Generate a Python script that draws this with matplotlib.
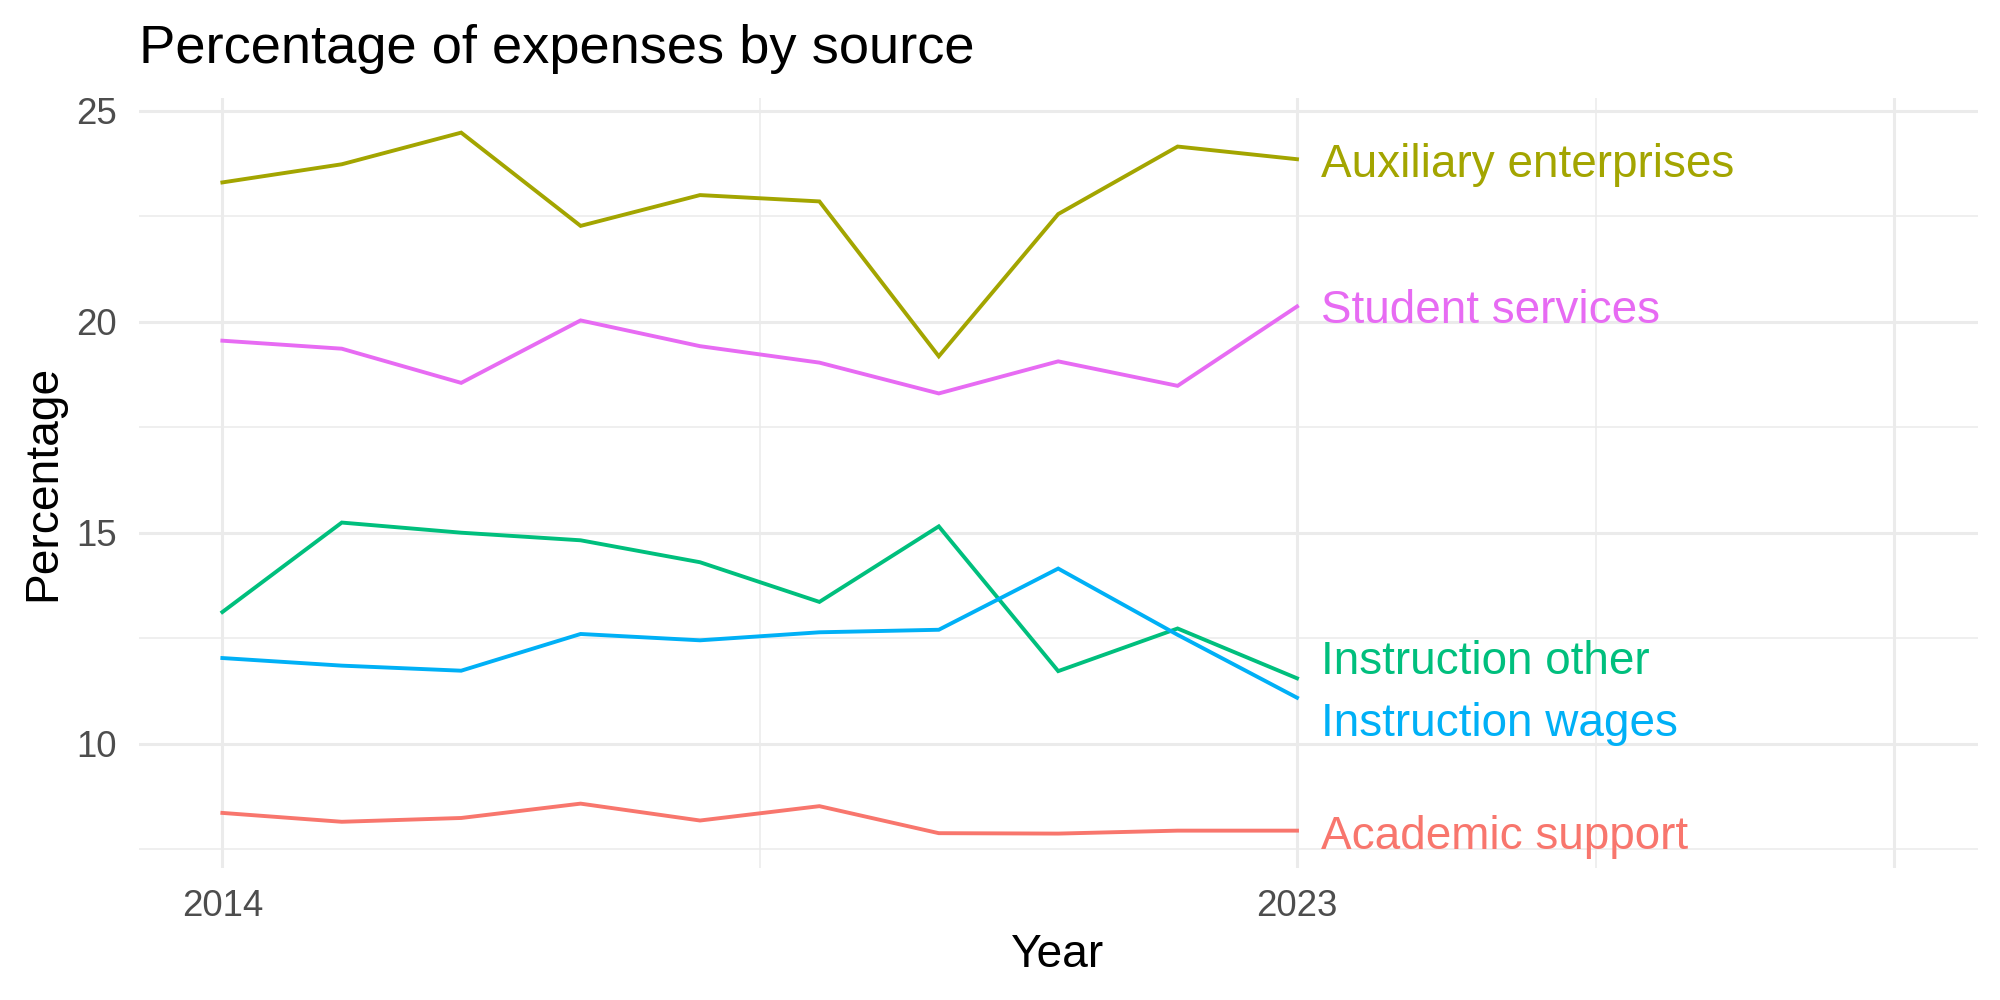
import matplotlib
matplotlib.use("Agg")
import matplotlib.pyplot as plt

years = [2014, 2015, 2016, 2017, 2018, 2019, 2020, 2021, 2022, 2023]
academic_support = [8.36, 8.15, 8.24, 8.58, 8.18, 8.52, 7.88, 7.87, 7.94, 7.94]
auxiliary_enterprises = [23.30, 23.73, 24.48, 22.27, 23.00, 22.85, 19.18, 22.55, 24.15, 23.85]
instruction_other = [13.12, 15.24, 15.00, 14.82, 14.30, 13.36, 15.15, 11.72, 12.73, 11.55]
instruction_wages = [12.03, 11.85, 11.73, 12.60, 12.45, 12.64, 12.70, 14.15, 12.58, 11.09]
student_services = [19.55, 19.36, 18.55, 20.03, 19.42, 19.03, 18.30, 19.06, 18.48, 20.36]

series_names = ["Academic support", "Auxiliary enterprises", "Instruction other",
                "Instruction wages", "Student services"]
series_values = [academic_support, auxiliary_enterprises, instruction_other,
                 instruction_wages, student_services]
colors = ["#F8766D", "#A3A500", "#00BF7D", "#00B0F6", "#E76BF3"]
# repelled label heights (as placed in the reference)
label_y = [7.89, 23.82, 12.05, 10.57, 20.37]

x_labels = {2014: "2014", 2023: "2023"}

plt.rcParams['font.family'] = ['Liberation Sans', 'DejaVu Sans']

fig = plt.figure(figsize=(10, 5), dpi=200)
ax = fig.add_axes([0.0694, 0.1318, 0.9194, 0.7706])

for name, vals, c, ly in zip(series_names, series_values, colors, label_y):
    ax.plot(years, vals, color=c, lw=1.4, solid_joinstyle='miter', zorder=3)
    ax.annotate(name, xy=(years[-1], ly), xytext=(8.6, -6.0), textcoords='offset points',
                ha='left', va='baseline', color=c, fontsize=16.5, zorder=4)

ax.set_xlim(2013.3, 2028.7)
ax.set_ylim(7.05, 25.31)

ax.set_xticks([2014, 2023, 2028])
ax.set_xticklabels([x_labels.get(t, "") for t in [2014, 2023, 2028]])
ax.set_xticks([2018.5, 2025.5], minor=True)
ax.set_yticks([10, 15, 20, 25])
ax.set_yticks([7.5, 12.5, 17.5, 22.5], minor=True)

ax.grid(which='major', color='#EBEBEB', lw=1.1, zorder=0)
ax.grid(which='minor', color='#EBEBEB', lw=0.55, zorder=0)
ax.set_axisbelow(True)
for s in ax.spines.values():
    s.set_visible(False)
ax.tick_params(which='both', length=0)
ax.tick_params(axis='x', pad=7.5, labelsize=13.2, labelcolor='#4D4D4D')
ax.tick_params(axis='y', pad=7.9, labelsize=13.2, labelcolor='#4D4D4D')

fig.text(0.0695, 0.9367, "Percentage of expenses by source", fontsize=19.6,
         ha='left', va='baseline', color='black')
fig.text(0.529, 0.033, "Year", fontsize=16.6, ha='center', va='baseline')
fig.text(0.0105, 0.517, "Percentage", fontsize=16.6, rotation=90, ha='left', va='center')

fig.savefig("out.png", dpi=200, facecolor='white')
